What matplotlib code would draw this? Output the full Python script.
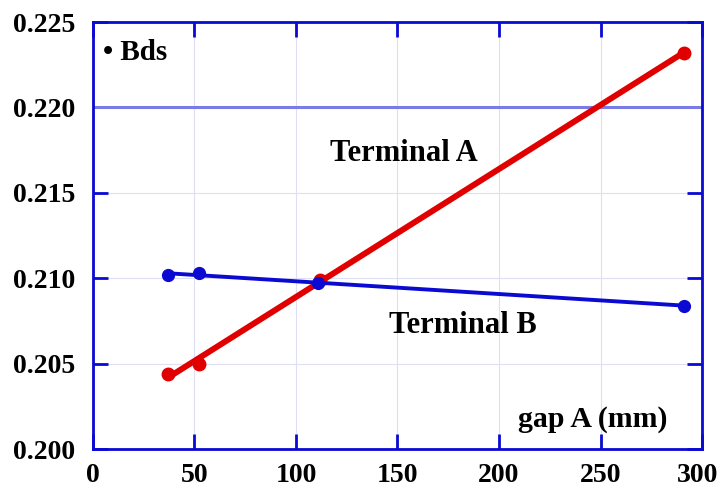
import numpy as np
import matplotlib
matplotlib.use("Agg")
import matplotlib.pyplot as plt
from matplotlib.transforms import ScaledTranslation

plt.rcParams['font.family'] = ['Liberation Serif', 'DejaVu Serif']
plt.rcParams['font.weight'] = 'bold'

# Measurements of Bds versus gap A
gap_a = [37, 52, 112, 291]
terminal_a = [0.2044, 0.2050, 0.2099, 0.2232]
gap_b = [37, 52, 111, 291]
terminal_b = [0.2102, 0.2103, 0.2097, 0.2084]
reference_level = 0.220

x_ticks = [0, 50, 100, 150, 200, 250, 300]
y_ticks = [0.200, 0.205, 0.210, 0.215, 0.220, 0.225]

fig = plt.figure(figsize=(7.19, 4.87), dpi=100)
ax = fig.add_axes([0.1293, 0.078, 0.8471, 0.8768])

ax.set_xlim(0, 300)
ax.set_ylim(0.200, 0.225)
ax.set_xticks(x_ticks)
ax.set_yticks(y_ticks)
ax.set_xticklabels([str(v) for v in x_ticks])
ax.set_yticklabels([f"{v:.3f}" for v in y_ticks])

ax.grid(True, color='#dedef4', linewidth=0.8)
ax.set_axisbelow(True)

blue = '#0a0ad2'
red = '#e00000'

ax.axhline(reference_level, color='#7b7be6', linewidth=2.2, zorder=2)

# linear fits through each series
xa = np.array(gap_a, dtype=float)
xb = np.array(gap_b, dtype=float)
pa = np.polyfit(xa, terminal_a, 1)
pb = np.polyfit(xb, terminal_b, 1)
fx_a = np.array([xa.min(), xa.max()])
fx_b = np.array([xb.min(), xb.max()])
ax.plot(fx_a, np.polyval(pa, fx_a), color=red, linewidth=4.3, zorder=3,
        solid_capstyle='butt')
ax.plot(gap_a, terminal_a, 'o', color=red, markersize=9, zorder=4)
ax.plot(fx_b, np.polyval(pb, fx_b), color=blue, linewidth=2.8, zorder=5)
ax.plot(gap_b, terminal_b, 'o', color=blue, markersize=8.5, zorder=6)

for s in ax.spines.values():
    s.set_color(blue)
    s.set_linewidth(2)

ax.tick_params(axis='both', which='major', direction='in', length=11,
               width=2, color=blue, top=True, right=True, labelsize=20)
ax.tick_params(axis='x', pad=10)
ax.tick_params(axis='y', pad=13)

# keep the last x label inside the canvas
last = ax.get_xticklabels()[-1]
last.set_transform(last.get_transform() + ScaledTranslation(-4 / 100, 0, fig.dpi_scale_trans))

ax.text(5, 0.2232, '\u2022 Bds', fontsize=21, fontweight='bold', va='center', ha='left')
ax.text(153, 0.21733, 'Terminal A', fontsize=22, fontweight='bold', va='center', ha='center')
ax.text(182, 0.20726, 'Terminal B', fontsize=22, fontweight='bold', va='center', ha='center')
ax.text(246, 0.2017, 'gap A (mm)', fontsize=21.5, fontweight='bold', va='center', ha='center')

fig.savefig('out.png', dpi=100)
